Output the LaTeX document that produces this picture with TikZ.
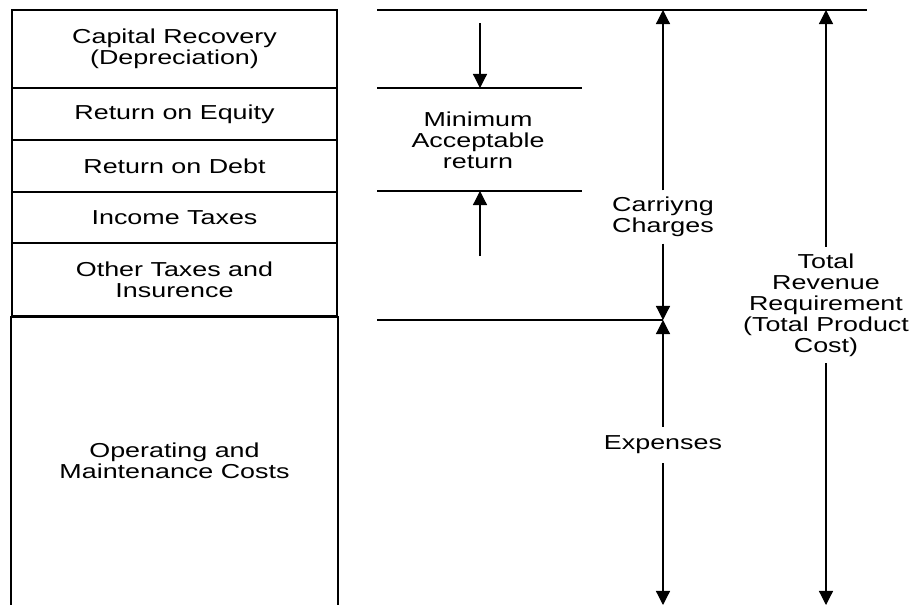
\documentclass[tikz,border=0pt]{standalone}
\usepackage{fontspec}
\setmainfont{Liberation Sans}[FakeStretch=1.33]
\usetikzlibrary{arrows.meta}

\tikzset{
  costbox/.style={draw, minimum width=6.5cm, inner sep=0pt, outer sep=0pt, align=center},
  lbl/.style={align=center, inner sep=3.5pt},
  arr/.style={-{Triangle[length=8pt,width=8pt]}}
}

\begin{document}
\begin{tikzpicture}[x=0.02cm, y=-0.02cm, line width=0.7pt,
  font=\fontsize{11.5}{12}\selectfont]
  \useasboundingbox (0,0) rectangle (917,605);
  % stacked cost blocks
  \foreach \name/\top/\bot/\txt in {cap/10/88/{Capital Recovery\\(Depreciation)},
      equity/88/140/{Return on Equity}, debt/140/192/{Return on Debt},
      tax/192/243/{Income Taxes}, other/243/316/{Other Taxes and\\Insurence}} {
    \node[costbox, minimum height={(\bot-\top)*0.02cm}] (\name)
      at (174.5,{(\top+\bot)/2}) {\txt};
  }
  \draw (11,605) -- (11,317) -- (338,317) -- (338,605);
  \node[lbl] (om) at (174.5,461) {Operating and\\Maintenance Costs};

  % reference lines
  \draw (377,10) -- (867,10);
  \draw (377,88) -- (582,88);
  \draw (377,191) -- (582,191);
  \draw (377,320) -- (663,320);

  \coordinate (mtop) at (480,23);
  \coordinate (mhi) at (480,88);
  \coordinate (mbot) at (480,256);
  \coordinate (mlo) at (480,191);
  \coordinate (ctop) at (663,10);
  \coordinate (cmid) at (663,320);
  \coordinate (cbot) at (663,605);
  \coordinate (ttop) at (826,10);
  \coordinate (tbot) at (826,605);

  \node[lbl] (mar) at (478,140) {Minimum\\Acceptable\\return};
  \node[lbl] (carry) at (663,217) {Carriyng\\Charges};
  \node[lbl, inner sep=5pt] (exp) at (663,445) {Expenses};
  \node[lbl] (total) at (826,305) {Total\\Revenue\\Requirement\\(Total Product\\Cost)};

  \draw[arr] (mtop) -- (mhi);
  \draw[arr] (mbot) -- (mlo);
  \draw[arr] (carry) -- (ctop);
  \draw[arr] (carry) -- (cmid);
  \draw[arr] (exp) -- (cmid);
  \draw[arr] (exp) -- (cbot);
  \draw[arr] (total) -- (ttop);
  \draw[arr] (total) -- (tbot);
\end{tikzpicture}
\end{document}
